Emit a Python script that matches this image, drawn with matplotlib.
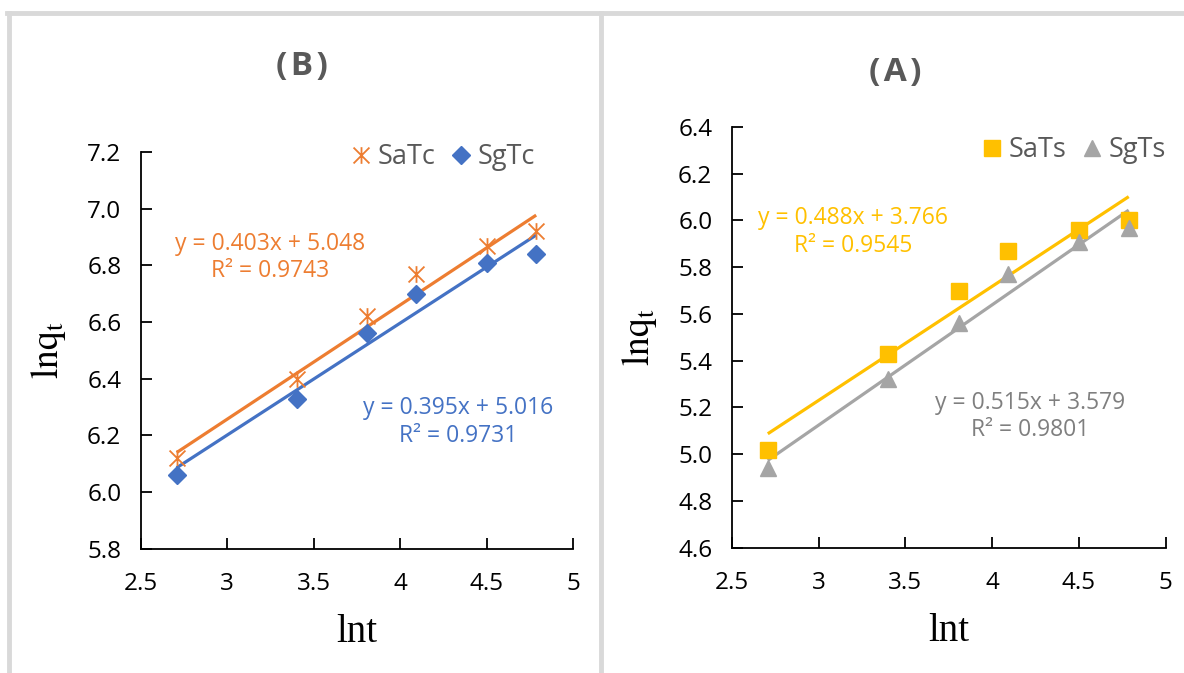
import numpy as np
import matplotlib
matplotlib.use("Agg")
import matplotlib.pyplot as plt
from matplotlib.lines import Line2D
from matplotlib.path import Path

plt.rcParams['font.family'] = ['Open Sans', 'DejaVu Sans']
plt.rcParams['mathtext.fontset'] = 'stix'

# data
lnt = [2.708, 3.401, 3.807, 4.094, 4.500, 4.787]

satc = [6.12, 6.40, 6.62, 6.77, 6.87, 6.92]
sgtc = [6.06, 6.33, 6.56, 6.70, 6.81, 6.84]
sats = [5.02, 5.43, 5.70, 5.87, 5.96, 6.00]
sgts = [4.94, 5.32, 5.56, 5.77, 5.91, 5.97]

# trendline coefficients printed on the chart
fit_satc = (0.403, 5.048, 0.9743)
fit_sgtc = (0.395, 5.016, 0.9731)
fit_sats = (0.488, 3.766, 0.9545)
fit_sgts = (0.515, 3.579, 0.9801)

x_ticks = [2.5, 3, 3.5, 4, 4.5, 5]
x_tick_labels = ['2.5', '3', '3.5', '4', '4.5', '5']
yticks_b = [5.8, 6.0, 6.2, 6.4, 6.6, 6.8, 7.0, 7.2]
yticks_a = [4.6, 4.8, 5.0, 5.2, 5.4, 5.6, 5.8, 6.0, 6.2, 6.4]

ORANGE = '#ED7D31'
BLUE = '#4472C4'
YELLOW = '#FFC000'
GRAY = '#A5A5A5'
GRAY_TXT = '#7F7F7F'
TXT = '#595959'

# Excel style star: an X with a vertical bar
STAR = Path([(-1, -1), (1, 1), (-1, 1), (1, -1), (0, -1.05), (0, 1.05)],
            [Path.MOVETO, Path.LINETO, Path.MOVETO, Path.LINETO, Path.MOVETO, Path.LINETO])

W, H = 1184, 673
fig = plt.figure(figsize=(W / 100, H / 100), dpi=100)


def fx(px):
    return px / W


def fy(py):
    return 1 - py / H


def panel(rect, yticks, series, fits, eq_pos, title, title_pos, leg_anchor):
    ax = fig.add_axes(rect)
    x = np.array(lnt)
    handles = []
    for (vals, color, tcolor, marker, ms, label), (m, b, r2), (ex, ey) in zip(series, fits, eq_pos):
        line_x = np.array([x.min(), x.max()])
        ax.plot(line_x, m * line_x + b, color=color, lw=2.3, solid_capstyle='butt', zorder=2)
        if marker == 'star':
            ax.plot(x, vals, ls='none', marker=STAR, ms=ms, color=color, mew=1.3, zorder=3)
            h = Line2D([], [], marker=STAR, ls='none', color=color, markersize=ms, markeredgewidth=1.3)
        else:
            ax.plot(x, vals, ls='none', marker=marker, ms=ms, color=color, mec=color, zorder=3)
            h = Line2D([], [], marker=marker, ls='none', color=color, markersize=ms)
        handles.append((h, label))
        ax.text(ex, ey, f'y = {m:.3f}x + {b:.3f}\nR² = {r2:.4f}', transform=ax.transAxes,
                color=tcolor, fontsize=16.5, ha='center', va='center', linespacing=1.2)

    ax.set_xlim(2.5, 5)
    ax.set_ylim(yticks[0], yticks[-1])
    ax.set_xticks(x_ticks)
    ax.set_xticklabels(x_tick_labels)
    ax.set_yticks(yticks)
    ax.set_yticklabels([f'{v:.1f}' for v in yticks])
    for s in ['top', 'right']:
        ax.spines[s].set_visible(False)
    for s in ['left', 'bottom']:
        ax.spines[s].set_linewidth(1.3)
        ax.spines[s].set_color('black')
    ax.tick_params(direction='in', length=8, width=1.3, labelsize=17.5, colors='black')
    ax.tick_params(axis='x', pad=17)
    ax.tick_params(axis='y', pad=14)
    ax.set_xlabel('lnt', fontfamily='Liberation Serif', fontsize=28, labelpad=13)
    ax.set_ylabel(r'$\mathrm{lnq_t}$', fontsize=27, labelpad=14)

    leg = ax.legend([h for h, _ in handles], [l for _, l in handles], ncol=2, frameon=False,
                    loc='center right', bbox_to_anchor=leg_anchor, bbox_transform=ax.transAxes,
                    fontsize=19.5, handletextpad=0.15, columnspacing=0.5, handlelength=0.9,
                    borderaxespad=0, borderpad=0)
    for t in leg.get_texts():
        t.set_color(TXT)

    fig.text(title_pos[0], title_pos[1], title, fontsize=24, fontweight='bold', color=TXT,
             ha='center', va='center')
    return ax


# left panel (B)
panel([fx(140.7), fy(548.7), fx(573) - fx(140.7), fy(152) - fy(548.7)], yticks_b,
      [(satc, ORANGE, ORANGE, 'star', 12, 'SaTc'), (sgtc, BLUE, BLUE, 'D', 9.5, 'SgTc')],
      [fit_satc, fit_sgtc],
      [(0.30, 0.734), (0.734, 0.32)],
      '(\u200aB\u200a)', (fx(302), fy(67)), (0.912, 0.987))

# right panel (A)
panel([fx(731.7), fy(547.7), fx(1165.7) - fx(731.7), fy(127) - fy(547.7)], yticks_a,
      [(sats, YELLOW, YELLOW, 's', 12, 'SaTs'), (sgts, GRAY, GRAY_TXT, '^', 11.5, 'SgTs')],
      [fit_sats, fit_sgts],
      [(0.28, 0.75), (0.687, 0.312)],
      '(\u200aA\u200a)', (fx(895), fy(72)), (1.0, 0.945))

# gray panel frames
frame = dict(color='#D9D9D9', lw=3.5, transform=fig.transFigure)
fig.add_artist(Line2D([fx(9), fx(9)], [0, fy(13)], **frame))
fig.add_artist(Line2D([fx(601), fx(601)], [0, fy(13)], **frame))
fig.add_artist(Line2D([fx(7), 1], [fy(13), fy(13)], **frame))

fig.savefig('out.png', dpi=100)
